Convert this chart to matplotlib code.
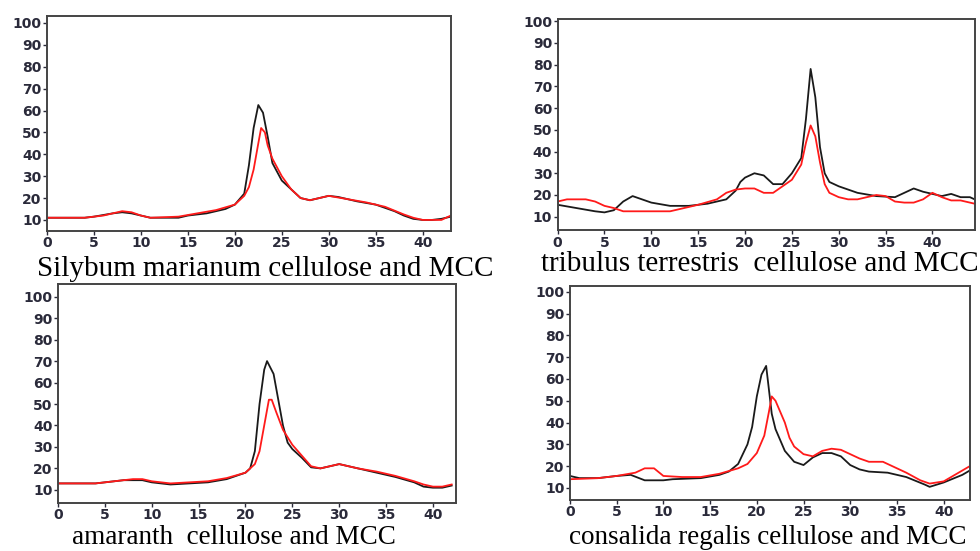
import matplotlib.pyplot as plt

# Panel 1 - Silybum marianum
sil_black_x = [0, 4, 5, 7, 8, 9, 10, 11, 14, 15, 17, 19, 20, 21, 21.5, 22, 22.5, 23, 23.5, 24, 25, 26, 27, 28, 29, 30, 31, 33, 35, 37, 38, 39, 40, 41, 42, 43]
sil_black_y = [11, 11, 11.5, 13, 13.5, 13, 12, 11, 11, 12, 13, 15, 17, 22, 35, 52, 62.5, 59, 48, 36, 28, 24, 20, 19, 20, 21, 20.5, 18.5, 17, 14, 12, 10.5, 10, 10, 10.5, 11.5]
sil_red_x = [0, 4, 6, 8, 9, 10, 11, 14, 16, 18, 20, 21, 21.5, 22, 22.5, 22.8, 23.2, 23.5, 24, 25, 26, 27, 28, 30, 32, 34, 36, 38, 39, 40, 42, 43]
sil_red_y = [11, 11, 12, 14, 13.5, 12, 11, 11.5, 13, 14.5, 17, 21, 25, 33, 45, 52, 50, 44, 38, 30, 24, 20, 19, 21, 19.5, 18, 16, 12.5, 11, 10, 10, 12]

# Panel 2 - tribulus terrestris
tri_black_x = [0, 2, 4, 5, 6, 7, 8, 9, 10, 12, 14, 16, 18, 19, 19.5, 20, 21, 22, 23, 24, 25, 26, 26.5, 27, 27.5, 28, 28.5, 29, 30, 32, 34, 36, 37, 38, 39, 40, 41, 42, 43, 44, 44.5]
tri_black_y = [15.5, 14, 12.5, 12, 13, 17, 19.5, 18, 16.5, 15, 15, 16, 18, 22, 26, 28, 30, 29, 25, 25, 30, 37, 55, 78, 65, 42, 30, 26, 24, 21, 19.5, 19, 21, 23, 21.5, 20.5, 19.5, 20.5, 19, 19, 18]
tri_red_x = [0, 1, 3, 4, 5, 6, 7, 12, 13, 15, 17, 18, 19, 20, 21, 22, 23, 24, 25, 26, 26.5, 27, 27.5, 28, 28.5, 29, 30, 31, 32, 33, 34, 35, 36, 37, 38, 39, 40, 41, 42, 43, 44.5]
tri_red_y = [17, 18, 18, 17, 15, 14, 12.5, 12.5, 13.5, 15.5, 18, 21, 22.5, 23, 23, 21, 21, 24, 27, 34, 44, 52, 47, 35, 25, 21, 19, 18, 18, 19, 20, 19.5, 17, 16.5, 16.5, 18, 21, 19, 17.5, 17.5, 16]

# Panel 3 - amaranth
ama_black_x = [0, 4, 5, 7, 9, 10, 12, 14, 16, 18, 20, 20.5, 21, 21.5, 22, 22.3, 23, 23.5, 24, 24.5, 25, 26, 27, 28, 30, 32, 34, 36, 38, 39, 40, 41, 42]
ama_black_y = [13, 13, 13.5, 14.5, 14.5, 13.5, 12.5, 13, 13.5, 15, 18, 20, 28, 50, 66, 70, 64, 52, 40, 32, 29, 25, 20.5, 20, 22, 20, 18, 16, 13.5, 11.5, 11, 11, 12]
ama_red_x = [0, 4, 6, 8, 9, 10, 12, 14, 16, 18, 20, 21, 21.5, 22, 22.5, 22.8, 23.3, 24, 25, 26, 27, 28, 30, 32, 34, 36, 38, 39, 40, 41, 42]
ama_red_y = [13, 13, 14, 15, 15, 14, 13, 13.5, 14, 15.5, 18, 22, 28, 40, 52, 52, 46, 38, 31, 26, 21, 20, 22, 20, 18.5, 16.5, 14, 12.5, 11.5, 11.5, 12.5]

# Panel 4 - consalida regalis
con_black_x = [0, 1, 3, 5, 6.5, 8, 10, 11, 14, 16, 17, 18, 19, 19.5, 20, 20.5, 21, 21.3, 21.6, 22, 23, 24, 25, 26, 27, 28, 29, 30, 31, 32, 34, 36, 38, 38.5, 40, 42, 42.8]
con_black_y = [15.5, 14.5, 14.5, 15.5, 16, 13.5, 13.5, 14, 14.5, 16, 17.5, 21, 30, 38, 52, 62, 66, 55, 44, 37, 27, 22, 20.5, 24, 26, 26, 24.5, 20.5, 18.5, 17.5, 17, 15, 11.5, 10.5, 12.5, 16, 18]
con_red_x = [0, 3, 5, 7, 8, 9, 10, 12, 14, 16, 18, 19, 20, 20.8, 21.3, 21.6, 22, 23, 23.5, 24, 25, 26, 27, 28, 29, 30, 31, 32, 33.5, 35, 36, 37.5, 38.5, 40, 41, 42.8]
con_red_y = [14, 14.5, 15.5, 17, 19, 19, 15.5, 15, 15, 16.5, 19, 21, 26, 34, 45, 52, 50, 40, 33, 29, 25.5, 24.5, 27, 28, 27.5, 25.5, 23.5, 22, 22, 19, 17, 13.5, 12, 13, 15.5, 20]

titles = ["Silybum marianum cellulose and MCC",
          "tribulus terrestris  cellulose and MCC",
          "amaranth  cellulose and MCC",
          "consalida regalis cellulose and MCC"]

panels = [
    ([0.048, 0.581, 0.412, 0.390], (0, 43), (5, 103.2), sil_black_x, sil_black_y, sil_red_x, sil_red_y),
    ([0.569, 0.5826, 0.4255, 0.383], (0, 44.5), (3.9, 101), tri_black_x, tri_black_y, tri_red_x, tri_red_y),
    ([0.0592, 0.088, 0.406, 0.3965], (0, 42.45), (4.1, 105.9), ama_black_x, ama_black_y, ama_red_x, ama_red_y),
    ([0.5816, 0.0931, 0.408, 0.388], (0, 42.8), (4.6, 102.7), con_black_x, con_black_y, con_red_x, con_red_y),
]
# title centres (figure fraction), y is the text baseline
title_pos = [(0.271, 0.499), (0.775, 0.508), (0.239, 0.012), (0.783, 0.012)]
title_size = [21, 21, 19.5, 19.5]

fig = plt.figure(figsize=(9.8, 5.51), dpi=100)

for (rect, xl, yl, bx, by, rx, ry), t, (tx, ty), fs in zip(panels, titles, title_pos, title_size):
    ax = fig.add_axes(rect)
    ax.plot(bx, by, color='#1a1a1a', lw=1.3)
    ax.plot(rx, ry, color='#ff1a1a', lw=1.3)
    ax.set_xlim(*xl)
    ax.set_ylim(*yl)
    ax.set_xticks(range(0, 41, 5))
    ax.set_yticks(range(10, 101, 10))
    ax.tick_params(axis='both', labelsize=10, colors='#2a2a3a', length=3, width=1, pad=1)
    for lab in ax.get_xticklabels() + ax.get_yticklabels():
        lab.set_fontweight('bold')
    for sp in ax.spines.values():
        sp.set_color('#444444')
        sp.set_linewidth(1.4)
    fig.text(tx, ty, t, ha='center', va='baseline', fontsize=fs,
             family='Liberation Serif', color='black')

fig.savefig('out.png', dpi=100)
